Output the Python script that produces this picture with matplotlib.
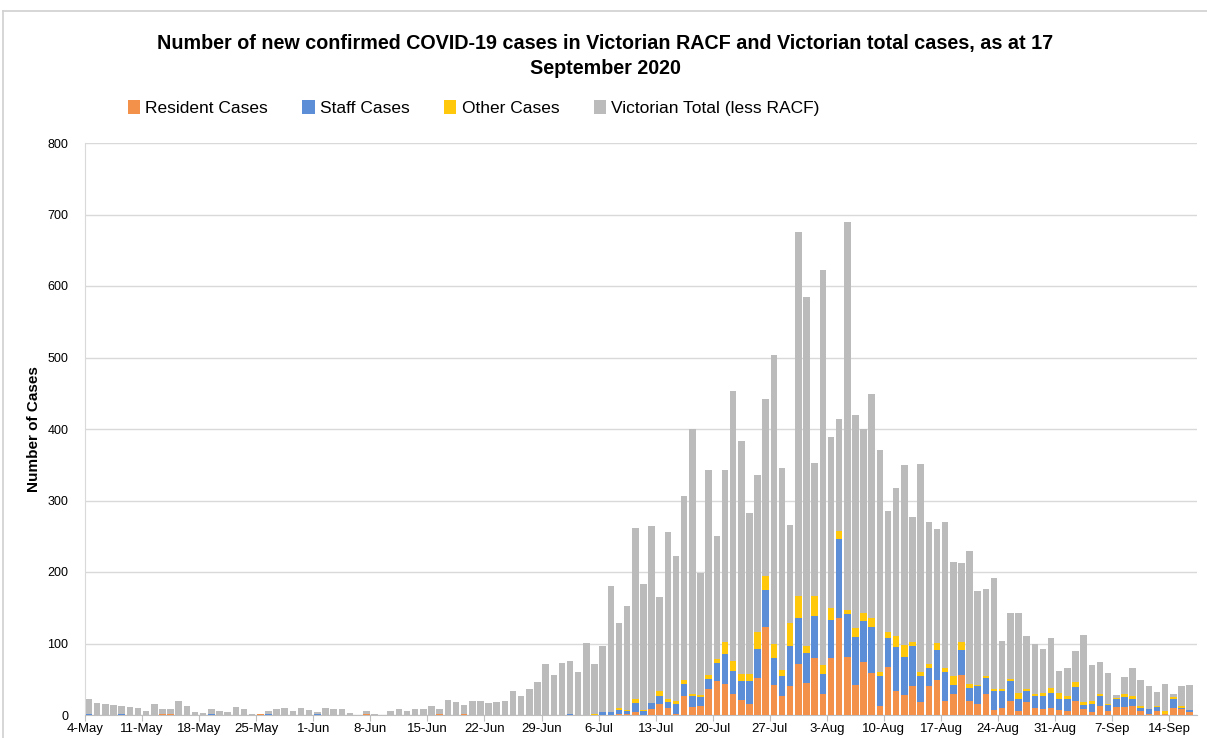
import numpy as np
import pandas as pd
import matplotlib
matplotlib.use("Agg")
import matplotlib.pyplot as plt
from matplotlib.lines import Line2D
from matplotlib.patches import Patch

# ---------------- data ----------------
dates = pd.date_range("2020-05-04", "2020-09-16", freq="D")

resident = [0,0,0,0,0,0,0,0,0,1,1,0,0,0,0,0,0,0,0,0,0,1,0,0,0,0,0,0,0,0,
            0,0,0,0,1,0,0,0,0,0,0,0,0,1,0,0,1,0,0,0,0,0,0,0,0,0,0,0,0,0,
            0,0,0,0,0,1,1,4,0,9,16,10,2,27,11,12,36,47,44,29,21,16,52,123,42,27,
            40,72,45,80,30,80,136,81,42,74,59,12,67,34,28,40,18,40,49,19,29,56,
            19,15,29,7,10,19,6,18,10,8,10,7,6,19,8,4,12,6,11,11,12,6,2,5,2,10,8,4]
staff = [1,0,0,0,1,0,0,0,0,0,0,0,0,0,0,1,0,0,0,0,0,0,1,0,0,0,0,0,1,0,
         0,0,0,0,0,0,0,0,0,0,0,0,0,0,0,0,0,0,0,0,0,0,0,0,0,0,0,0,0,1,
         0,0,0,4,4,6,4,13,5,8,11,8,13,17,15,13,14,26,42,32,27,32,41,52,38,27,
         56,63,42,58,28,53,110,60,67,58,64,42,40,61,53,56,36,26,42,41,13,35,
         19,25,23,26,24,28,17,15,17,19,21,15,17,20,6,11,14,8,11,14,11,4,6,6,0,13,2,3]
other = [0,0,0,0,0,0,0,0,0,0,0,0,0,0,0,0,0,0,0,0,0,0,0,0,0,0,0,0,0,0,
         0,0,0,0,0,0,0,0,0,0,0,0,0,0,0,0,0,0,0,0,0,0,0,0,0,0,0,0,0,0,
         0,0,1,0,0,3,2,5,2,0,7,4,4,5,4,3,6,5,16,14,10,10,23,20,20,9,
         32,31,9,28,12,16,12,6,13,11,12,6,9,15,17,6,6,6,10,6,12,11,
         5,2,2,3,3,4,8,4,3,4,7,9,3,7,4,4,3,2,2,4,4,2,0,2,3,2,3,0]
vic_total = [22,17,16,14,12,11,10,5,15,8,8,19,13,4,3,7,6,4,11,9,2,0,4,8,10,6,10,7,3,10,
             8,9,3,0,4,2,0,5,9,5,8,9,13,8,21,18,13,20,20,17,18,20,34,27,37,46,72,56,73,75,
             60,101,70,93,176,119,145,239,176,247,131,234,204,257,370,171,286,172,240,378,325,224,220,247,403,282,
             138,510,489,187,553,240,156,542,298,257,314,311,170,207,252,175,291,198,159,204,160,111,
             187,132,122,155,66,92,111,73,70,62,69,31,40,44,94,51,45,43,4,24,39,37,32,19,39,5,27,35]

tick_labels = ["4-May","11-May","18-May","25-May","1-Jun","8-Jun","15-Jun","22-Jun",
               "29-Jun","6-Jul","13-Jul","20-Jul","27-Jul","3-Aug","10-Aug","17-Aug",
               "24-Aug","31-Aug","7-Sep","14-Sep"]
y_ticks = [0,100,200,300,400,500,600,700,800]

series_names = ["Resident Cases","Staff Cases","Other Cases","Victorian Total (less RACF)"]
colors = ["#F3914A","#5B8ED6","#FFC80A","#BBBBBB"]

# ---------------- figure ----------------
plt.rcParams['font.family'] = ['Liberation Sans', 'DejaVu Sans']
fig = plt.figure(figsize=(12.07, 7.38), dpi=100)
ax = fig.add_axes([85/1207, 1-715/738, (1197-85)/1207, (715-143)/738])

x = np.arange(len(dates))
bottom = np.zeros(len(dates))
for vals, c, n in zip([resident, staff, other, vic_total], colors, series_names):
    v = np.array(vals, dtype=float)
    ax.bar(x, v, width=0.8, bottom=bottom, color=c, label=n, zorder=3, linewidth=0)
    bottom += v

ax.set_ylim(0, 800)
ax.set_xlim(-0.5, 135.9)
ax.set_yticks(y_ticks)
ax.set_yticklabels([str(t) for t in y_ticks], fontsize=9)
ax.grid(axis='y', color='#D9D9D9', linewidth=1, zorder=0)

tick_pos = [dates.get_loc(pd.Timestamp(d + "-2020")) - 0.5 for d in tick_labels]
ax.set_xticks(tick_pos)
ax.set_xticklabels(tick_labels, fontsize=9.5)
ax.tick_params(axis='x', length=4, color='#BFBFBF', pad=2)
ax.tick_params(axis='y', length=0, pad=12)

for s in ['top', 'right']:
    ax.spines[s].set_visible(False)
ax.spines['left'].set_color('#D9D9D9')
ax.spines['bottom'].set_color('#BFBFBF')

ax.set_ylabel("Number of Cases", fontsize=11, fontweight='bold')
ax.yaxis.set_label_coords(-(85-41)/1112, 0.5)

fig.text(0.5015, 1-43/738, "Number of new confirmed COVID-19 cases in Victorian RACF and Victorian total cases, as at 17",
         ha='center', va='center', fontsize=14.2, fontweight='bold')
fig.text(0.5015, 1-69/738, "September 2020", ha='center', va='center', fontsize=14.2, fontweight='bold')

handles = [Patch(facecolor=c, edgecolor='none') for c in colors]
fig.legend(handles, series_names, loc='center left', bbox_to_anchor=(112/1207, 1-108/738),
           ncol=4, frameon=False, fontsize=12.5, handlelength=0.7, handleheight=0.9,
           handletextpad=0.3, columnspacing=2.0)

# chart-area border
fig.add_artist(Line2D([3/1207, 3/1207], [0, 1-11/738], color='#D0D0D0', lw=1.2))
fig.add_artist(Line2D([3/1207, 1], [1-11/738, 1-11/738], color='#D0D0D0', lw=1.2))

fig.savefig("out.png", dpi=100)
